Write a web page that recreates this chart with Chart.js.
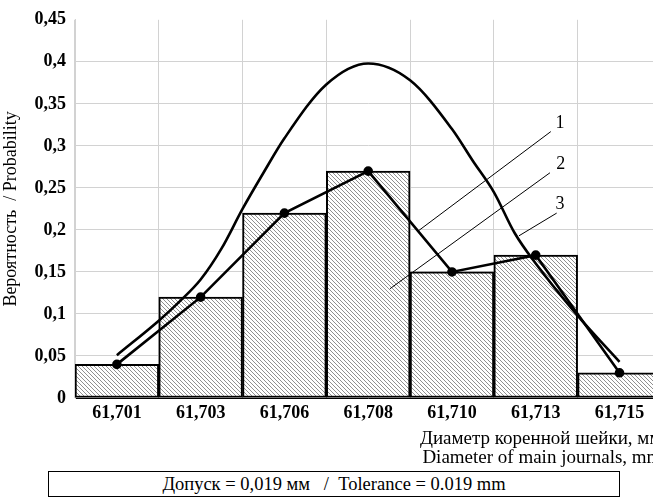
<!DOCTYPE html>
<html>
<head>
<meta charset="utf-8">
<script src="https://cdn.jsdelivr.net/npm/chart.js@4/dist/chart.umd.min.js"></script>
<style>
  html, body { margin:0; padding:0; background:#fff; width:653px; height:499px; overflow:hidden; position:relative; }
  #wrap { position:absolute; left:0; top:0; width:668px; height:468px; }
  #note { position:absolute; left:48px; top:471px; width:570px; height:24px; border:1.5px solid #000;
          font-family:"Liberation Serif", "DejaVu Serif", serif; font-size:18.5px; line-height:24px; text-align:center; color:#000; box-sizing:content-box; white-space:pre; }
</style>
</head>
<body>
<div id="wrap"><canvas id="c"></canvas></div>
<div id="note">Допуск = 0,019 мм   /  Tolerance = 0.019 mm</div>
<script>
// ---- data ----
const categories = ['61,701','61,703','61,706','61,708','61,710','61,713','61,715'];
const probabilities = [0.04, 0.12, 0.22, 0.27, 0.15, 0.17, 0.03];
// smooth curve (position in category units, probability)
const curveX = [0, 0.5, 0.75, 1, 1.25, 1.5, 1.75, 2, 2.5, 3, 3.5, 4, 4.25, 4.5, 4.75, 5, 5.5, 6];
const curveY = [0.051, 0.092, 0.115, 0.141, 0.178, 0.225, 0.268, 0.309, 0.373, 0.398, 0.378, 0.32, 0.282, 0.245, 0.196, 0.16, 0.098, 0.043];
const yTickValues = [0, 0.05, 0.1, 0.15, 0.2, 0.25, 0.3, 0.35, 0.4, 0.45];
// callouts (category units, probability)
const calloutLabels = ['1', '2', '3'];
const calloutFrom = [[3.60, 0.199], [3.26, 0.130], [4.80, 0.193]];
const calloutTo   = [[5.18, 0.317], [5.17, 0.268], [5.25, 0.220]];
const calloutText = [[5.29, 0.327], [5.30, 0.278], [5.29, 0.230]];

const SERIF = '"Liberation Serif", "DejaVu Serif", serif';

function hatch() {
  const t = document.createElement('canvas');
  t.width = 4; t.height = 4;
  const g = t.getContext('2d');
  g.fillStyle = '#fff'; g.fillRect(0,0,4,4);
  g.strokeStyle = '#909090'; g.lineWidth = 1;
  g.beginPath();
  g.moveTo(-1,-1); g.lineTo(5,5);
  g.moveTo(-1,3); g.lineTo(1,5);
  g.moveTo(3,-1); g.lineTo(5,1);
  g.stroke();
  return document.getElementById('c').getContext('2d').createPattern(t, 'repeat');
}

const callouts = {
  id: 'callouts',
  afterDatasetsDraw(chart) {
    const ctx = chart.ctx, xs = chart.scales.x2, ys = chart.scales.y;
    ctx.save();
    ctx.strokeStyle = '#000'; ctx.lineWidth = 1;
    ctx.fillStyle = '#000';
    ctx.font = '18px ' + SERIF;
    ctx.textAlign = 'center'; ctx.textBaseline = 'middle';
    for (let i = 0; i < calloutLabels.length; i++) {
      ctx.beginPath();
      ctx.moveTo(xs.getPixelForValue(calloutFrom[i][0]), ys.getPixelForValue(calloutFrom[i][1]));
      ctx.lineTo(xs.getPixelForValue(calloutTo[i][0]), ys.getPixelForValue(calloutTo[i][1]));
      ctx.stroke();
      ctx.fillText(calloutLabels[i], xs.getPixelForValue(calloutText[i][0]), ys.getPixelForValue(calloutText[i][1]));
    }
    ctx.restore();
  }
};

new Chart(document.getElementById('c'), {
  type: 'bar',
  data: {
    labels: categories,
    datasets: [
      {
        type: 'line', label: 'curve', xAxisID: 'x2', order: 0,
        data: curveX.map((x, i) => ({x: x, y: curveY[i]})),
        borderColor: '#000', borderWidth: 2.6, pointRadius: 0,
        cubicInterpolationMode: 'monotone', fill: false
      },
      {
        type: 'line', label: 'polygon', order: 1,
        data: probabilities,
        borderColor: '#000', borderWidth: 2.6, pointRadius: 3.5,
        pointBackgroundColor: '#000', pointBorderColor: '#000', tension: 0, fill: false
      },
      {
        type: 'bar', label: 'hist', order: 2, grouped: false,
        data: probabilities,
        backgroundColor: hatch(), borderColor: '#000', borderWidth: 2,
        borderSkipped: false, barPercentage: 1, categoryPercentage: 1
      }
    ]
  },
  options: {
    responsive: true, maintainAspectRatio: false, animation: false,
    layout: { padding: { top: 18, right: 6, left: 0, bottom: 0 } },
    plugins: { legend: { display: false }, tooltip: { enabled: false } },
    scales: {
      x: {
        type: 'category', offset: true,
        grid: { color: '#d2d2d2', lineWidth: 1, offset: true, drawTicks: false },
        border: { color: '#000', width: 1 },
        ticks: { color: '#000', font: { family: SERIF, size: 18, weight: 'bold' }, padding: 5, maxRotation: 0 },
        title: {
          display: true, align: 'end', color: '#000',
          text: ['Диаметр коренной шейки, мм', 'Diameter of main journals, mm'],
          font: { family: SERIF, size: 19, lineHeight: 1.0 }, padding: { top: 2, bottom: 0 }
        },
        afterFit(s) { s.height = 70; }
      },
      x2: {
        type: 'linear', min: -0.5, max: 6.5, offset: false, display: false,
        grid: { offset: false }
      },
      y: {
        min: 0, max: 0.45,
        afterBuildTicks(s) { s.ticks = yTickValues.map(v => ({value: v})); },
        grid: {
          color: (c) => (c.tick && c.tick.value > 0.449) ? 'rgba(0,0,0,0)' : '#d2d2d2',
          lineWidth: 1, drawTicks: false
        },
        border: { color: '#d2d2d2', width: 1 },
        ticks: {
          color: '#000', font: { family: SERIF, size: 18, weight: 'bold' }, padding: 9,
          callback: (v) => String(Math.round(v * 100) / 100).replace('.', ',')
        },
        title: {
          display: true, color: '#000', text: 'Вероятность  / Probability',
          font: { family: SERIF, size: 18 }, padding: { top: 0, bottom: 0 }
        },
        afterFit(s) { s.width = 75; }
      }
    }
  },
  plugins: [callouts]
});
</script>
</body>
</html>
